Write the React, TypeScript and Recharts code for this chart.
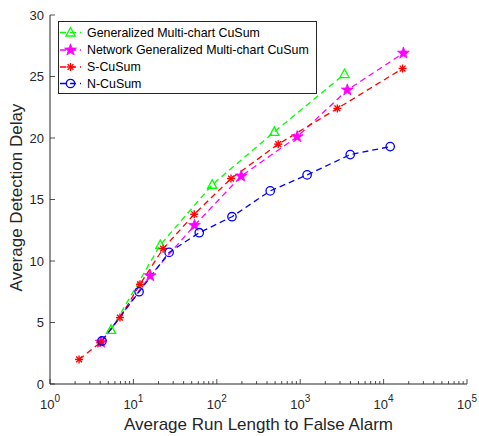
import React from 'react';
import { LineChart, Line, XAxis, YAxis, Legend } from 'recharts';

// ---- data ----
const gmcX = [5.4, 21, 88, 490, 3400];
const gmcY = [4.4, 11.3, 16.2, 20.5, 25.2];

const ngX = [4.1, 15.9, 54, 196, 920, 3670, 17300];
const ngY = [3.4, 8.8, 12.9, 16.9, 20.1, 23.9, 26.9];

const sX = [2.23, 4.0, 6.9, 12, 22.7, 53.6, 148, 545, 2790, 16900];
const sY = [2.0, 3.35, 5.4, 8.1, 11.0, 13.8, 16.7, 19.5, 22.4, 25.65];

const nX = [4.2, 11.7, 26.8, 61.6, 152, 437, 1210, 3980, 12000];
const nY = [3.5, 7.5, 10.7, 12.3, 13.6, 15.7, 17.0, 18.65, 19.3];

const seriesNames = [
  'Generalized Multi-chart CuSum',
  'Network Generalized Multi-chart CuSum',
  'S-CuSum',
  'N-CuSum',
];

const majorTicks = [1, 10, 100, 1000, 10000, 100000];
const minorMultipliers = [2, 3, 4, 5, 6, 7, 8, 9];
const yTicks = [0, 5, 10, 15, 20, 25, 30];

const xTicks: number[] = [];
majorTicks.forEach((m, i) => {
  xTicks.push(m);
  if (i < majorTicks.length - 1) minorMultipliers.forEach((k) => xTicks.push(m * k));
});

const toPts = (xs: number[], ys: number[]) => xs.map((x, i) => ({ x, y: ys[i] }));
const gmcData = toPts(gmcX, gmcY);
const ngData = toPts(ngX, ngY);
const sData = toPts(sX, sY);
const nData = toPts(nX, nY);

const AX = '#262626';
const FONT = '"Liberation Sans", Arial, Helvetica, sans-serif';
const DASH = '6 4';

// ---- markers ----
const Tri = ({ cx, cy }: any) => (
  <polygon
    points={`${cx},${cy - 5} ${cx - 4.6},${cy + 3.5} ${cx + 4.6},${cy + 3.5}`}
    fill="none"
    stroke="#00ff00"
    strokeWidth={1.3}
  />
);

const Pent = ({ cx, cy }: any) => {
  const pts: string[] = [];
  for (let i = 0; i < 10; i++) {
    const r = i % 2 === 0 ? 6.2 : 2.5;
    const a = -Math.PI / 2 + (i * Math.PI) / 5;
    pts.push(`${cx + r * Math.cos(a)},${cy + r * Math.sin(a)}`);
  }
  return <polygon points={pts.join(' ')} fill="#ff00ff" stroke="#ff00ff" strokeWidth={0.8} />;
};

const Ast = ({ cx, cy }: any) => {
  const r = 4;
  const d = r * 0.72;
  return (
    <g stroke="#ff0000" strokeWidth={1.4}>
      <line x1={cx - r} y1={cy} x2={cx + r} y2={cy} />
      <line x1={cx} y1={cy - r} x2={cx} y2={cy + r} />
      <line x1={cx - d} y1={cy - d} x2={cx + d} y2={cy + d} />
      <line x1={cx - d} y1={cy + d} x2={cx + d} y2={cy - d} />
    </g>
  );
};

const Circ = ({ cx, cy }: any) => (
  <circle cx={cx} cy={cy} r={4.2} fill="none" stroke="#0000ff" strokeWidth={1.3} />
);

const series = [
  { name: seriesNames[0], data: gmcData, color: '#00ff00', Marker: Tri },
  { name: seriesNames[1], data: ngData, color: '#ff00ff', Marker: Pent },
  { name: seriesNames[2], data: sData, color: '#ff0000', Marker: Ast },
  { name: seriesNames[3], data: nData, color: '#0000ff', Marker: Circ },
];

// ---- ticks ----
const isMajor = (v: number) => majorTicks.indexOf(v) >= 0;

const XBottomTick = ({ x, y, payload }: any) => {
  const v = payload.value;
  const major = isMajor(v);
  const exp = Math.round(Math.log10(v));
  return (
    <g>
      <line x1={x} x2={x} y1={y} y2={y - (major ? 5 : 3)} stroke={AX} strokeWidth={0.8} />
      {major && (
        <text x={x} y={y + 25} textAnchor="middle" fontSize={13} fill={AX} fontFamily={FONT}>
          10
          <tspan dy={-7} fontSize={10}>
            {exp}
          </tspan>
        </text>
      )}
    </g>
  );
};

const XTopTick = ({ x, y, payload }: any) => {
  const major = isMajor(payload.value);
  return <line x1={x} x2={x} y1={y} y2={y + (major ? 5 : 3)} stroke={AX} strokeWidth={0.8} />;
};

const YLeftTick = ({ x, y, payload }: any) => (
  <g>
    <line x1={x} x2={x + 5} y1={y} y2={y} stroke={AX} strokeWidth={0.8} />
    <text x={x - 6} y={y + 4.6} textAnchor="end" fontSize={13} fill={AX} fontFamily={FONT}>
      {payload.value}
    </text>
  </g>
);

const YRightTick = ({ x, y }: any) => (
  <line x1={x} x2={x - 5} y1={y} y2={y} stroke={AX} strokeWidth={0.8} />
);

// ---- legend ----
const LegendBox = () => {
  const rowY = [11.5, 29, 46, 62.5];
  return (
    <svg width={259} height={73} style={{ display: 'block' }}>
      <rect x={0.5} y={0.5} width={258} height={72} fill="#ffffff" stroke={AX} strokeWidth={1} />
      {series.map((s, i) => (
        <g key={s.name}>
          <line x1={2} x2={23} y1={rowY[i]} y2={rowY[i]} stroke={s.color} strokeWidth={1.3} strokeDasharray={DASH} />
          <s.Marker cx={12.5} cy={rowY[i]} />
          <text x={29} y={rowY[i] + 4.4} fontSize={12.4} fill="#000" fontFamily={FONT}>
            {s.name}
          </text>
        </g>
      ))}
    </svg>
  );
};

const XTitle = ({ viewBox }: any) => (
  <text
    x={viewBox.x + viewBox.width / 2}
    y={430}
    textAnchor="middle"
    fontSize={17}
    fill={AX}
    fontFamily={FONT}
  >
    Average Run Length to False Alarm
  </text>
);

const YTitle = ({ viewBox }: any) => {
  const cy = viewBox.y + viewBox.height / 2 - 2;
  return (
    <text
      x={22}
      y={cy}
      transform={`rotate(-90, 22, ${cy})`}
      textAnchor="middle"
      fontSize={17}
      fill={AX}
      fontFamily={FONT}
    >
      Average Detection Delay
    </text>
  );
};

export default function App() {
  return (
    <div style={{ position: 'absolute', left: 0, top: 0, background: '#fff' }}>
      <LineChart
        width={479}
        height={436}
        margin={{ top: 15, right: 12, bottom: 0, left: 0 }}
        style={{ fontFamily: FONT }}
      >
        <XAxis
          dataKey="x"
          type="number"
          scale="log"
          domain={[1, 100000]}
          allowDataOverflow
          ticks={xTicks}
          interval={0}
          height={52}
          tickSize={0}
          tickMargin={0}
          tickLine={false}
          tick={<XBottomTick />}
          axisLine={{ stroke: AX, strokeWidth: 1 }}
          label={<XTitle />}
        />
        <XAxis
          xAxisId="top"
          orientation="top"
          dataKey="x"
          type="number"
          scale="log"
          domain={[1, 100000]}
          allowDataOverflow
          ticks={xTicks}
          interval={0}
          height={0}
          tickSize={0}
          tickMargin={0}
          tickLine={false}
          tick={<XTopTick />}
          axisLine={{ stroke: AX, strokeWidth: 1 }}
        />
        <YAxis
          type="number"
          domain={[0, 30]}
          ticks={yTicks}
          interval={0}
          width={50}
          tickSize={0}
          tickMargin={0}
          tickLine={false}
          tick={<YLeftTick />}
          axisLine={{ stroke: AX, strokeWidth: 1 }}
          label={<YTitle />}
        />
        <YAxis
          yAxisId="r"
          orientation="right"
          type="number"
          domain={[0, 30]}
          ticks={yTicks}
          interval={0}
          width={0}
          tickSize={0}
          tickMargin={0}
          tickLine={false}
          tick={<YRightTick />}
          axisLine={{ stroke: AX, strokeWidth: 1 }}
        />
        <Legend
          layout="vertical"
          align="center"
          verticalAlign="middle"
          wrapperStyle={{ left: 58, top: 21, width: 259, height: 73 }}
          content={() => <LegendBox />}
        />
        {series.map((s) => (
          <Line
            key={s.name}
            name={s.name}
            data={s.data}
            dataKey="y"
            type="linear"
            stroke={s.color}
            strokeWidth={1.3}
            strokeDasharray={DASH}
            isAnimationActive={false}
            activeDot={false}
            dot={(p: any) => <s.Marker key={`${s.name}-${p.index}`} cx={p.cx} cy={p.cy} />}
          />
        ))}
      </LineChart>
    </div>
  );
}
